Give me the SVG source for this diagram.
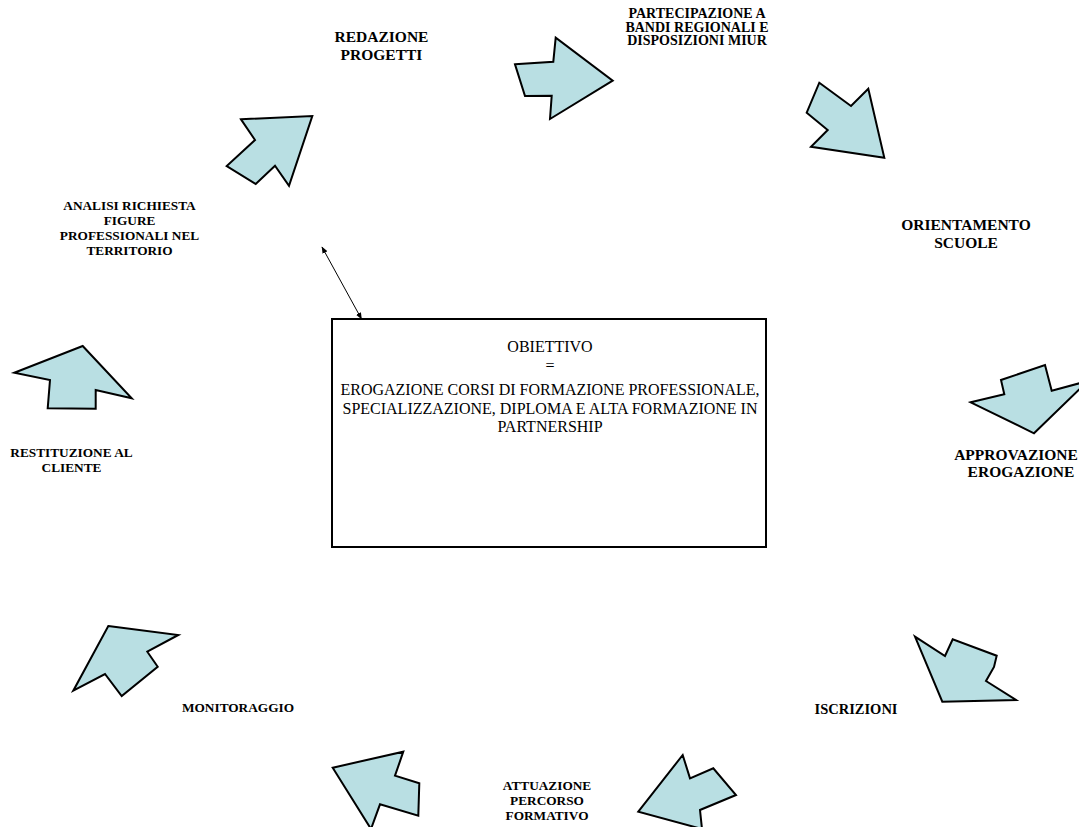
<svg xmlns="http://www.w3.org/2000/svg" width="1079" height="827" viewBox="0 0 1079 827">
<style>
.arr{fill:#b9dfe3;stroke:#000;stroke-width:2;stroke-linejoin:miter}
.lbl{font-family:"Liberation Serif","Times New Roman",serif;font-weight:bold;fill:#000;text-anchor:middle}
.s{font-size:13.3px}
.b{font-size:15.5px}
.box{fill:#fff;stroke:#000;stroke-width:2}
.bt{font-family:"Liberation Serif","Times New Roman",serif;font-size:16px;fill:#000;text-anchor:middle}
.con{stroke:#000;stroke-width:1;fill:none}
</style>
<defs>
<marker id="ah" viewBox="0 0 10 10" refX="9" refY="5" markerWidth="7" markerHeight="7" orient="auto-start-reverse" markerUnits="userSpaceOnUse">
<path d="M0,1 L10,5 L0,9 Z" fill="#000"/>
</marker>
</defs>
<rect width="1079" height="827" fill="#fff"/>
<g id="arrows">
<polygon id="a1" class="arr" points="241,119.3 312.3,116 289,185.7 275,165.7 255.7,184 226.7,166 255,140"/>
<polygon id="a2" class="arr" points="515,64.3 553.3,61.7 555.7,37.7 612.7,80.7 550,119 551.7,95.7 525,96"/>
<polygon id="a3" class="arr" points="819.3,82.7 851,106 868.3,88.7 884.3,157.7 811,146.7 827.7,130 806.7,112.7"/>
<polygon id="a4" class="arr" points="970.7,402.3 1004.3,394.3 1001,380 1045,365 1051.7,390.7 1088,381 1034,433.3"/>
<polygon id="a5" class="arr" points="915,636.7 945,656 952.7,639.3 996.7,655.7 994,667 986,681 1016,700 942.3,701.7"/>
<polygon id="a6" class="arr" points="638.3,811.7 682.7,755 690,778.3 713.3,768.3 736,795 700,810 702,829"/>
<polygon id="a7" class="arr" points="332.7,767.7 403.3,751.7 395,775.7 419.3,783.3 418.3,815.7 380,804.3 371,829"/>
<polygon id="a8" class="arr" points="108.3,626 178.3,635 147.3,651.7 157.7,666.7 121.7,696 105,674 73.3,690.7"/>
<polygon id="a9" class="arr" points="14.3,372.7 82.7,346 131.7,398.3 95.7,390 95.7,408.7 47.7,408.3 50,380"/>
</g>
<g id="connectors">
<line class="con" x1="322" y1="247" x2="361.5" y2="319" marker-start="url(#ah)" marker-end="url(#ah)"/>
</g>
<g id="objective">
<rect class="box" x="332" y="319" width="434" height="228"/>
<text class="bt" x="550" y="352">OBIETTIVO</text>
<text class="bt" x="550" y="371">=</text>
<text class="bt" x="550" y="395">EROGAZIONE CORSI DI FORMAZIONE PROFESSIONALE,</text>
<text class="bt" x="550" y="413.5">SPECIALIZZAZIONE, DIPLOMA E ALTA FORMAZIONE IN</text>
<text class="bt" x="550" y="432">PARTNERSHIP</text>
</g>
<g id="n-redazione"><text class="lbl b" x="381.5" y="41.5">REDAZIONE<tspan x="381.5" dy="18.4">PROGETTI</tspan></text></g>
<g id="n-partecipazione"><text class="lbl s" x="697" y="18" style="font-size:14px">PARTECIPAZIONE A<tspan x="697" dy="13.5">BANDI REGIONALI E</tspan><tspan x="697" dy="13.5">DISPOSIZIONI MIUR</tspan></text></g>
<g id="n-orientamento"><text class="lbl b" x="966" y="230">ORIENTAMENTO<tspan x="966" dy="18.4">SCUOLE</tspan></text></g>
<g id="n-approvazione"><text class="lbl b" x="1016" y="460">APPROVAZIONE<tspan x="1021" dy="17">EROGAZIONE</tspan></text></g>
<g id="n-iscrizioni"><text class="lbl s" x="856" y="714" style="font-size:14.5px">ISCRIZIONI</text></g>
<g id="n-attuazione"><text class="lbl s" x="547" y="789.5">ATTUAZIONE<tspan x="547" dy="15">PERCORSO</tspan><tspan x="547" dy="15">FORMATIVO</tspan></text></g>
<g id="n-monitoraggio"><text class="lbl s" x="238" y="712">MONITORAGGIO</text></g>
<g id="n-restituzione"><text class="lbl s" x="71.5" y="457">RESTITUZIONE AL<tspan x="71.5" dy="14.5">CLIENTE</tspan></text></g>
<g id="n-analisi"><text class="lbl s" x="129.5" y="209.5">ANALISI RICHIESTA<tspan x="129.5" dy="15">FIGURE</tspan><tspan x="129.5" dy="15">PROFESSIONALI NEL</tspan><tspan x="129.5" dy="15">TERRITORIO</tspan></text></g>
</svg>
